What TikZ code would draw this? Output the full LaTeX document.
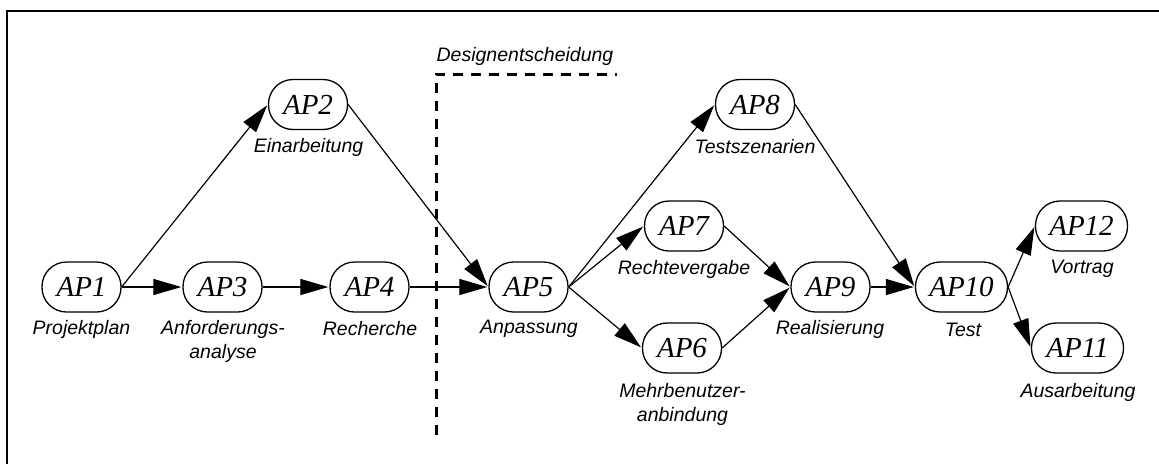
\documentclass[tikz,border=0pt]{standalone}
\usepackage{fontspec}
\setmainfont{Liberation Serif}
\newfontfamily\lblfont{Liberation Sans}
\usetikzlibrary{arrows.meta}
\begin{document}
\begin{tikzpicture}[x=1pt,y=-1pt,
  ap/.style={draw, line width=1.3pt, rounded corners=24.5pt, minimum width=79pt,
    minimum height=50pt, inner sep=0pt, font=\fontsize{29}{29}\selectfont\itshape},
  apwide/.style={ap, minimum width=92pt},
  lbl/.style={font=\lblfont\fontsize{19.5}{24}\selectfont\itshape, align=center, inner sep=0pt},
  arr/.style={line width=1.2pt, -{Triangle[length=28pt,width=16pt]}, shorten >=1pt}]
\useasboundingbox (0,0) rectangle (1159,464);
% frame
\draw[line width=2pt] (7,464) -- (7,11) -- (1159,11);
% design decision marker
\draw[line width=3pt, dash pattern=on 10pt off 8pt] (436,435) -- (436,74) -- (617,74);
\node[lbl] (dec) at (525,56) {Designentscheidung};
% work packages
\node[ap] (a1) at (81.5,287) {AP1};
\node[ap] (a2) at (308,104.5) {AP2};
\node[ap] (a3) at (222.5,287) {AP3};
\node[ap] (a4) at (369.5,287) {AP4};
\node[ap] (a5) at (528.5,287) {AP5};
\node[ap] (a6) at (682,348) {AP6};
\node[ap] (a7) at (684,226) {AP7};
\node[ap] (a8) at (755,104.5) {AP8};
\node[ap] (a9) at (830.5,287) {AP9};
\node[apwide] (a10) at (961.5,287) {AP10};
\node[apwide] (a11) at (1077.5,348) {AP11};
\node[apwide] (a12) at (1081.5,226) {AP12};
% captions
\node[lbl] (l1) at (81.5,329) {Projektplan};
\node[lbl] (l2) at (308.5,147) {Einarbeitung};
\node[lbl, anchor=north] (l3) at (223,320) {Anforderungs-\\analyse};
\node[lbl] (l4) at (370,329) {Recherche};
\node[lbl] (l5) at (529,329) {Anpassung};
\node[lbl, anchor=north] (l6) at (682.5,383) {Mehrbenutzer-\\anbindung};
\node[lbl] (l7) at (684,269) {Rechtevergabe};
\node[lbl] (l8) at (755,147) {Testszenarien};
\node[lbl] (l9) at (830,329) {Realisierung};
\node[lbl] (l10) at (963,330) {Test};
\node[lbl] (l11) at (1078,392) {Ausarbeitung};
\node[lbl] (l12) at (1082,269) {Vortrag};
% dependencies
\draw[arr] (a1.east) -- (a2.west);
\draw[arr] (a1.east) -- (a3.west);
\draw[arr] (a3.east) -- (a4.west);
\draw[arr] (a2.east) -- (a5.west);
\draw[arr] (a4.east) -- (a5.west);
\draw[arr] (a5.east) -- (a8.west);
\draw[arr] (a5.east) -- (a7.west);
\draw[arr] (a5.east) -- (a6.west);
\draw[arr] (a7.east) -- (a9.west);
\draw[arr] (a6.east) -- (a9.west);
\draw[arr] (a8.east) -- (a10.west);
\draw[arr] (a9.east) -- (a10.west);
\draw[arr] (a10.east) -- (a12.west);
\draw[arr] (a10.east) -- (a11.west);
\end{tikzpicture}
\end{document}
